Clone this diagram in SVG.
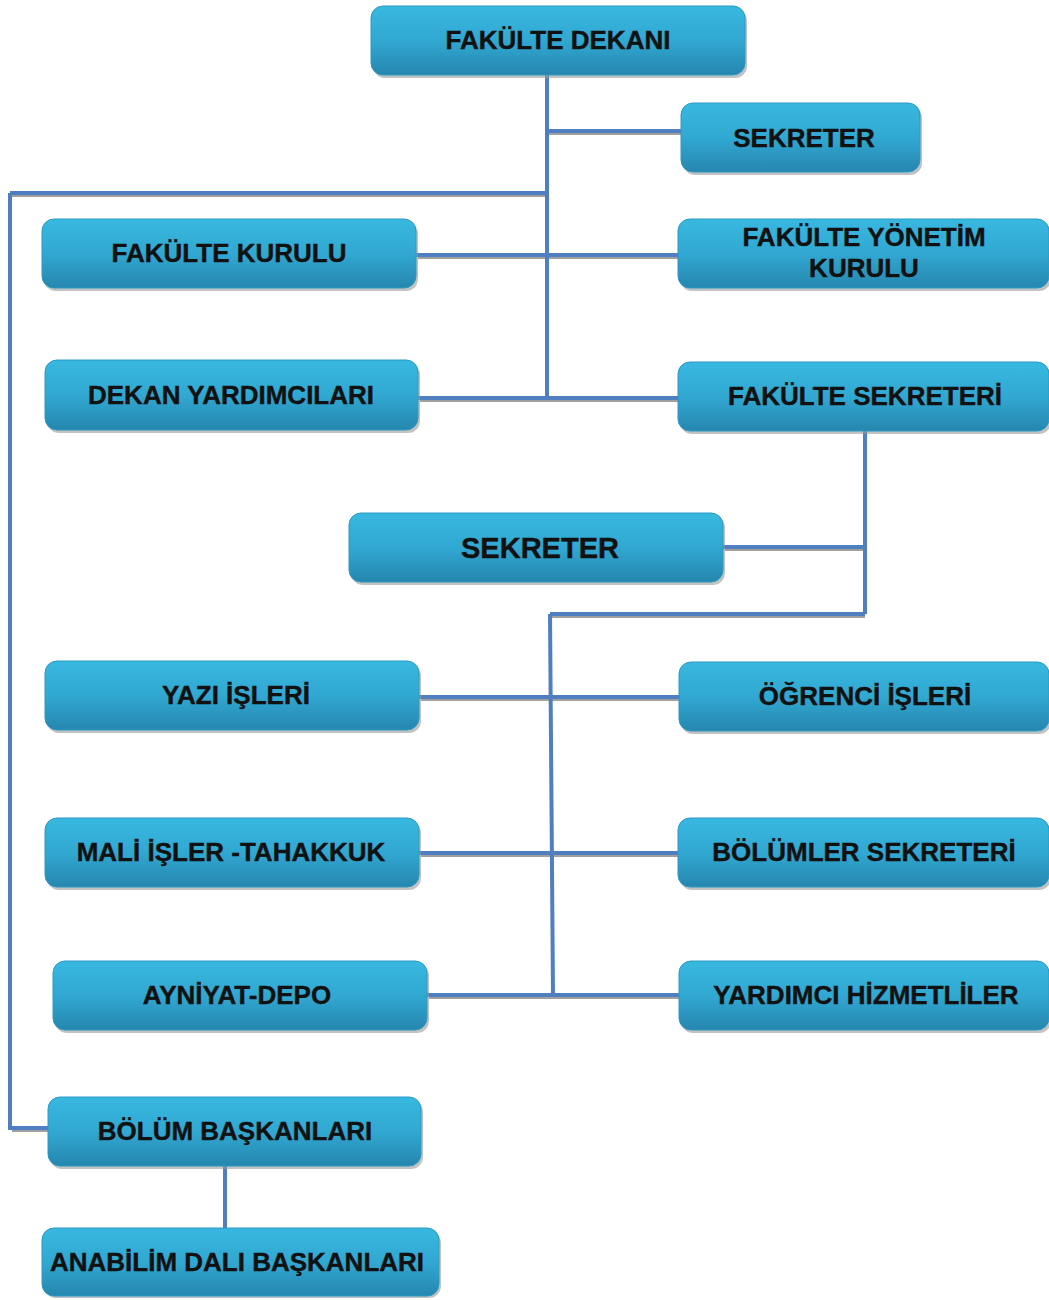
<svg xmlns="http://www.w3.org/2000/svg" width="1049" height="1300" viewBox="0 0 1049 1300">
<defs>
<linearGradient id="g" x1="0" y1="0" x2="0" y2="1">
<stop offset="0" stop-color="#38b8e0"/>
<stop offset="0.5" stop-color="#31a8d2"/>
<stop offset="1" stop-color="#2686ae"/>
</linearGradient>
</defs>
<style>
.box{fill:url(#g);stroke:#2b9ac4;stroke-width:1}
.sh{fill:#9a9a9a;opacity:0.6}
.t{font-family:"Liberation Sans",Arial,sans-serif;font-weight:bold;font-size:26px;fill:#111;stroke:#111;stroke-width:0.4;text-anchor:middle}
.c{stroke:#4f7fc0;stroke-width:4;fill:none}
.cs{stroke:#a0a0a0;stroke-width:2;fill:none}
</style>
<g id="connectors">
<g class="cs">
<path d="M549 134H681M12 196H549M418 258H678M420 401H678M725 550H865M552 617H865M421 700H679M421 856H678M429 998H679M12 1131H48"/>
</g>
<g class="c">
<path d="M547 75V398"/>
<path d="M547 131H681"/>
<path d="M10 193H549"/>
<path d="M10 193V1128H48"/>
<path d="M416 255H678"/>
<path d="M418 398H678"/>
<path d="M865 431V614"/>
<path d="M723 547H865"/>
<path d="M550 614H865"/>
<path d="M550 614L553 995"/>
<path d="M419 697H679"/>
<path d="M419 853H678"/>
<path d="M427 995H679"/>
<path d="M225 1166V1228"/>
</g>
</g>
<g id="n1"><rect class="sh" x="373" y="9" width="374" height="69" rx="12"/><rect class="box" x="371" y="6" width="374" height="69" rx="12"/><text class="t" x="558" y="49">FAKÜLTE DEKANI</text></g>
<g id="n2"><rect class="sh" x="683" y="106" width="239" height="69" rx="12"/><rect class="box" x="681" y="103" width="239" height="69" rx="12"/><text class="t" x="804" y="147">SEKRETER</text></g>
<g id="n3"><rect class="sh" x="44" y="222" width="374" height="69" rx="12"/><rect class="box" x="42" y="219" width="374" height="69" rx="12"/><text class="t" x="229" y="262">FAKÜLTE KURULU</text></g>
<g id="n4"><rect class="sh" x="680" y="222" width="371" height="69" rx="12"/><rect class="box" x="678" y="219" width="371" height="69" rx="12"/><text class="t" x="864" y="246">FAKÜLTE YÖNETİM</text><text class="t" x="864" y="277">KURULU</text></g>
<g id="n5"><rect class="sh" x="47" y="363" width="373" height="70" rx="12"/><rect class="box" x="45" y="360" width="373" height="70" rx="12"/><text class="t" x="231" y="404">DEKAN YARDIMCILARI</text></g>
<g id="n6"><rect class="sh" x="680" y="365" width="371" height="69" rx="12"/><rect class="box" x="678" y="362" width="371" height="69" rx="12"/><text class="t" x="865" y="405">FAKÜLTE SEKRETERİ</text></g>
<g id="n7"><rect class="sh" x="351" y="516" width="374" height="69" rx="12"/><rect class="box" x="349" y="513" width="374" height="69" rx="12"/><text class="t" x="540" y="558" style="font-size:29px">SEKRETER</text></g>
<g id="n8"><rect class="sh" x="47" y="664" width="374" height="69" rx="12"/><rect class="box" x="45" y="661" width="374" height="69" rx="12"/><text class="t" x="236" y="704">YAZI İŞLERİ</text></g>
<g id="n9"><rect class="sh" x="681" y="665" width="370" height="69" rx="12"/><rect class="box" x="679" y="662" width="370" height="69" rx="12"/><text class="t" x="865" y="705">ÖĞRENCİ İŞLERİ</text></g>
<g id="n10"><rect class="sh" x="47" y="821" width="374" height="69" rx="12"/><rect class="box" x="45" y="818" width="374" height="69" rx="12"/><text class="t" x="231" y="861">MALİ İŞLER -TAHAKKUK</text></g>
<g id="n11"><rect class="sh" x="680" y="821" width="371" height="69" rx="12"/><rect class="box" x="678" y="818" width="371" height="69" rx="12"/><text class="t" x="864" y="861">BÖLÜMLER SEKRETERİ</text></g>
<g id="n12"><rect class="sh" x="55" y="964" width="374" height="69" rx="12"/><rect class="box" x="53" y="961" width="374" height="69" rx="12"/><text class="t" x="237" y="1004">AYNİYAT-DEPO</text></g>
<g id="n13"><rect class="sh" x="681" y="964" width="370" height="69" rx="12"/><rect class="box" x="679" y="961" width="370" height="69" rx="12"/><text class="t" x="866" y="1004">YARDIMCI HİZMETLİLER</text></g>
<g id="n14"><rect class="sh" x="50" y="1100" width="373" height="69" rx="12"/><rect class="box" x="48" y="1097" width="373" height="69" rx="12"/><text class="t" x="235" y="1140">BÖLÜM BAŞKANLARI</text></g>
<g id="n15"><rect class="sh" x="44" y="1231" width="397" height="67" rx="12"/><rect class="box" x="42" y="1228" width="397" height="68" rx="12"/><text class="t" x="237" y="1271">ANABİLİM DALI BAŞKANLARI</text></g>
</svg>
